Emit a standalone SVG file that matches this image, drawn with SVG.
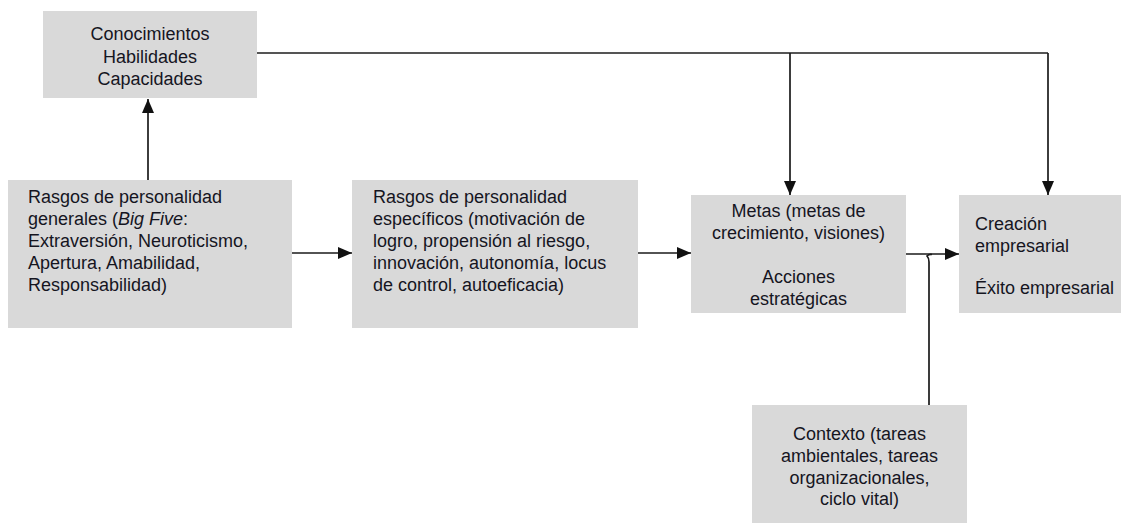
<svg xmlns="http://www.w3.org/2000/svg" width="1125" height="523" viewBox="0 0 1125 523">
  <style>
    .box { fill: #d9d9d9; }
    .t { font-family: "Liberation Sans", Arial, sans-serif; font-size: 18px; fill: #15151f; }
    .c { text-anchor: middle; }
    .ln { fill: none; stroke: #1a1a1a; stroke-width: 1.7; }
    .top { fill: none; stroke: #555; stroke-width: 2.2; }
  </style>
  <defs>
    <marker id="arr" viewBox="0 0 14 12" refX="14" refY="6" markerWidth="14" markerHeight="12" markerUnits="userSpaceOnUse" orient="auto">
      <path d="M0,0 L14,6 L0,12 Z" fill="#111"/>
    </marker>
  </defs>

  <rect width="1125" height="523" fill="#ffffff"/>

  <g id="conocimientos">
    <rect class="box" x="43" y="11" width="214" height="87"/>
    <text class="t c" x="150" y="40">Conocimientos</text>
    <text class="t c" x="150" y="62.5">Habilidades</text>
    <text class="t c" x="150" y="85">Capacidades</text>
  </g>

  <g id="rasgos-generales">
    <rect class="box" x="8" y="180" width="284" height="148"/>
    <text class="t" x="28" y="203">Rasgos de personalidad</text>
    <text class="t" x="28" y="225">generales (<tspan font-style="italic">Big Five</tspan>:</text>
    <text class="t" x="28" y="247">Extraversión, Neuroticismo,</text>
    <text class="t" x="28" y="269">Apertura, Amabilidad,</text>
    <text class="t" x="28" y="291">Responsabilidad)</text>
  </g>

  <g id="rasgos-especificos">
    <rect class="box" x="352" y="180" width="286" height="148"/>
    <text class="t" x="373" y="203">Rasgos de personalidad</text>
    <text class="t" x="373" y="225">específicos (motivación de</text>
    <text class="t" x="373" y="247">logro, propensión al riesgo,</text>
    <text class="t" x="373" y="269">innovación, autonomía, locus</text>
    <text class="t" x="373" y="291">de control, autoeficacia)</text>
  </g>

  <g id="metas">
    <rect class="box" x="691" y="195" width="215" height="118"/>
    <text class="t c" x="798.5" y="217">Metas (metas de</text>
    <text class="t c" x="798.5" y="239">crecimiento, visiones)</text>
    <text class="t c" x="798.5" y="283">Acciones</text>
    <text class="t c" x="798.5" y="305">estratégicas</text>
  </g>

  <g id="creacion">
    <rect class="box" x="959" y="195" width="162" height="118"/>
    <text class="t" x="975" y="230">Creación</text>
    <text class="t" x="975" y="251.5">empresarial</text>
    <text class="t" x="975" y="294">Éxito empresarial</text>
  </g>

  <g id="contexto">
    <rect class="box" x="752" y="405" width="215" height="118"/>
    <text class="t c" x="859.5" y="440">Contexto (tareas</text>
    <text class="t c" x="859.5" y="462">ambientales, tareas</text>
    <text class="t c" x="859.5" y="483.5">organizacionales,</text>
    <text class="t c" x="859.5" y="505">ciclo vital)</text>
  </g>

  <g id="connectors">
    <!-- upward link from general traits to competences -->
    <line class="ln" x1="148" y1="180" x2="148" y2="99" marker-end="url(#arr)"/>
    <!-- competences feed goals and outcomes -->
    <polyline class="top" points="257,53 1048,53"/>
    <line class="ln" x1="790" y1="53" x2="790" y2="195" marker-end="url(#arr)"/>
    <line class="ln" x1="1048" y1="53" x2="1048" y2="195" marker-end="url(#arr)"/>
    <!-- main chain -->
    <line class="ln" x1="292" y1="253" x2="352" y2="253" marker-end="url(#arr)"/>
    <line class="ln" x1="638" y1="253" x2="691" y2="253" marker-end="url(#arr)"/>
    <line class="ln" x1="906" y1="254" x2="959" y2="254" marker-end="url(#arr)"/>
    <!-- context moderates the goals → outcome link -->
    <path class="ln" d="M929,405 V262 Q929,258 927,256 Q929,254 932,254.5"/>
  </g>
</svg>
